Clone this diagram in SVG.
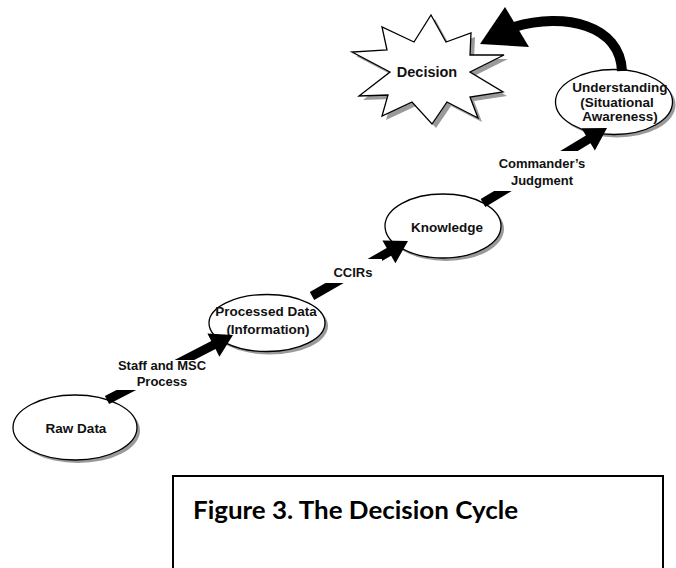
<svg xmlns="http://www.w3.org/2000/svg" width="676" height="568" viewBox="0 0 676 568">
<defs>
<style>
.node{fill:#fff;stroke:#000;stroke-width:1.3}
.shadow{fill:#9a9a9a}
.t{font-family:"Liberation Sans",Arial,sans-serif;font-weight:bold;font-size:13.5px;fill:#111;text-anchor:middle}
.lbl{font-family:"Liberation Sans",Arial,sans-serif;font-weight:bold;font-size:13px;fill:#111;text-anchor:middle}
.arrow{fill:#000}
.mask{fill:#fff}
</style>
<polygon id="starShape" points="431,15 446,42 471,33 470,55 504,55 470,72 503,92 470,97 478,118 447,102 432,124 412,102 382,116 388,95 359,96 390,72 352,52 387,50 382,27 414,42"/>
</defs>
<rect width="676" height="568" fill="#fff"/>

<g id="node-raw-data">
<ellipse class="shadow" cx="78" cy="430.5" rx="62" ry="32.5"/>
<ellipse class="node" cx="75" cy="427.5" rx="62" ry="32.5"/>
<text class="t" x="76" y="432.5">Raw Data</text>
</g>

<g id="node-processed-data">
<ellipse class="shadow" cx="270" cy="326" rx="58" ry="28.5"/>
<ellipse class="node" cx="267" cy="323" rx="58" ry="28.5"/>
<text class="t" x="266" y="316">Processed Data</text>
<text class="t" x="268" y="334">(Information)</text>
</g>

<g id="node-knowledge">
<ellipse class="shadow" cx="446" cy="229" rx="58" ry="32"/>
<ellipse class="node" cx="443" cy="226" rx="58" ry="32"/>
<text class="t" x="447" y="232">Knowledge</text>
</g>

<g id="node-understanding">
<ellipse class="shadow" cx="617" cy="105" rx="58.5" ry="32.5"/>
<ellipse class="node" cx="614" cy="102" rx="58.5" ry="32.5"/>
<text class="t" x="620" y="92">Understanding</text>
<text class="t" x="617" y="106.5">(Situational</text>
<text class="t" x="620" y="121">Awareness)</text>
</g>

<g id="node-decision">
<use href="#starShape" class="shadow" transform="translate(4,4)"/>
<use href="#starShape" class="node"/>
<text class="t" x="427" y="77" style="font-size:14.5px">Decision</text>
</g>

<g id="connectors">
<polygon class="arrow" points="104.9,396 211.3,341.1 207.4,333.5 233,335 219.4,356.7 215.5,349.1 109.1,404"/>
<rect class="mask" x="105" y="360" width="105" height="30"/>
<text class="lbl" x="162" y="370">Staff and MSC</text>
<text class="lbl" x="162" y="386">Process</text>

<polygon class="arrow" points="309.8,292.1 386.7,248 382.4,240.6 408,241 395.4,263.2 391.1,255.8 314.2,299.9"/>
<rect class="mask" x="318" y="259" width="64" height="24"/>
<text class="lbl" x="353" y="276.5">CCIRs</text>

<polygon class="arrow" points="480.7,199.1 585.9,135.5 581.5,128.3 607,128 594.9,150.5 590.5,143.3 485.3,206.9"/>
<rect class="mask" x="492" y="151" width="102" height="40"/>
<text class="lbl" x="542" y="168">Commander’s</text>
<text class="lbl" x="542" y="184.5">Judgment</text>

<path d="M622,71 C620,25 565,12 514,27" fill="none" stroke="#000" stroke-width="10"/>
<polygon class="arrow" points="480,44 505,7 529,47"/>
</g>

<g id="caption">
<rect x="173" y="476" width="490" height="110" fill="#fff" stroke="#000" stroke-width="2"/>
<text x="193" y="519" font-family="Lato,'Open Sans',sans-serif" font-weight="bold" font-size="25" textLength="325" lengthAdjust="spacingAndGlyphs" fill="#000">Figure 3. The Decision Cycle</text>
</g>
</svg>
